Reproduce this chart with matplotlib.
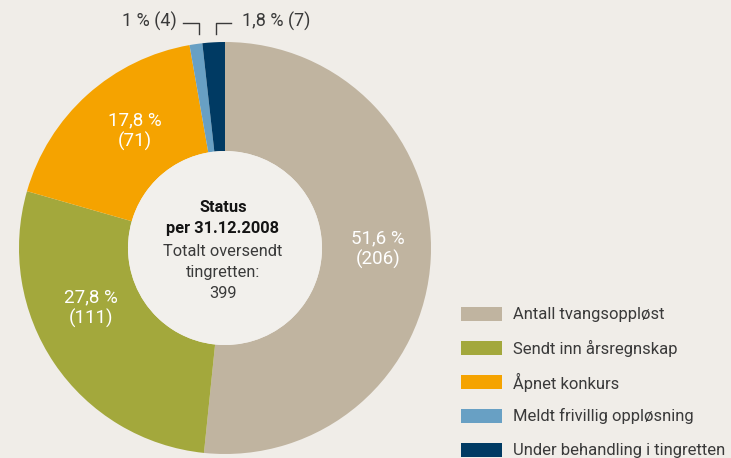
import numpy as np
import matplotlib
matplotlib.use("Agg")
import matplotlib.pyplot as plt
from matplotlib.patches import Rectangle

# data
categories = ["Antall tvangsoppløst", "Sendt inn årsregnskap", "Åpnet konkurs",
              "Meldt frivillig oppløsning", "Under behandling i tingretten"]
counts = [206, 111, 71, 4, 7]
colors = ["#c0b4a0", "#a3a83c", "#f5a300", "#68a0c4", "#003a63"]
center_lines = ["Status", "per 31.12.2008", "Totalt oversendt", "tingretten:", "399"]

W, H = 731, 458
BG = "#f0ede8"
TXT = "#3a3a3a"
plt.rcParams['font.family'] = ['Roboto', 'DejaVu Sans']

def Y(y):
    # pixel row -> data y
    return H - y

def pct_label(v, tot):
    s = "%.1f" % (v / tot * 100)
    s = s.replace(".", ",")
    if s.endswith(",0"):
        s = s[:-2]
    return s + " %"

fig = plt.figure(figsize=(W / 100, H / 100), dpi=100)
fig.patch.set_facecolor(BG)
ax = fig.add_axes([0, 0, 1, 1])
ax.set_facecolor(BG)

cx, cy, R, r_in = 225, 248, 206, 97
total = sum(counts)
wedges, _ = ax.pie(counts, colors=colors, startangle=90, counterclock=False,
                   radius=R, center=(cx, Y(cy)),
                   wedgeprops=dict(width=R - r_in, linewidth=0))
ax.add_patch(plt.Circle((cx, Y(cy)), r_in, color="#f2f0ec", lw=0, zorder=3))

# labels inside the big wedges (pixel positions)
label_pos = [(378, 249), (91, 308), (135, 131)]
for i, (px, py) in enumerate(label_pos):
    ax.text(px, Y(py), pct_label(counts[i], total) + "\n(%d)" % counts[i],
            ha="center", va="center", color="white", fontsize=13.5,
            linespacing=1.2, zorder=5)

# small wedges: labels above with bracket leaders
def mid_x(w):
    a = np.deg2rad((w.theta1 + w.theta2) / 2)
    return cx + R * np.cos(a)

xb = mid_x(wedges[3]) + 3
xn = mid_x(wedges[4]) + 2
ax.plot([xb - 16, xb, xb], [Y(22.5), Y(22.5), Y(34)], color=TXT, lw=1)
ax.plot([xn, xn, xn + 15], [Y(34), Y(22.5), Y(22.5)], color=TXT, lw=1)
ax.text(xb - 22, Y(21), pct_label(counts[3], total) + " (%d)" % counts[3],
        ha="right", va="center", color=TXT, fontsize=13)
ax.text(xn + 26, Y(21), pct_label(counts[4], total) + " (%d)" % counts[4],
        ha="left", va="center", color=TXT, fontsize=13)

# centre text
ys = [207, 229, 252, 273, 294]
for k, (line, yy) in enumerate(zip(center_lines, ys)):
    ax.text(223, Y(yy), line, ha="center", va="center", fontsize=11.8,
            color="#141414" if k < 2 else TXT,
            fontweight="bold" if k < 2 else "normal", zorder=5)

# legend
for i, (lab, col) in enumerate(zip(categories, colors)):
    yc = 314 + i * 34
    ax.add_patch(Rectangle((461, Y(yc) - 7), 41, 14, color=col, lw=0))
    ax.text(513, Y(yc), lab, ha="left", va="center", fontsize=12, color=TXT)

ax.set_xlim(0, W)
ax.set_ylim(0, H)
ax.set_aspect("equal")
ax.axis("off")
fig.savefig("out.png", dpi=100, facecolor=BG)
